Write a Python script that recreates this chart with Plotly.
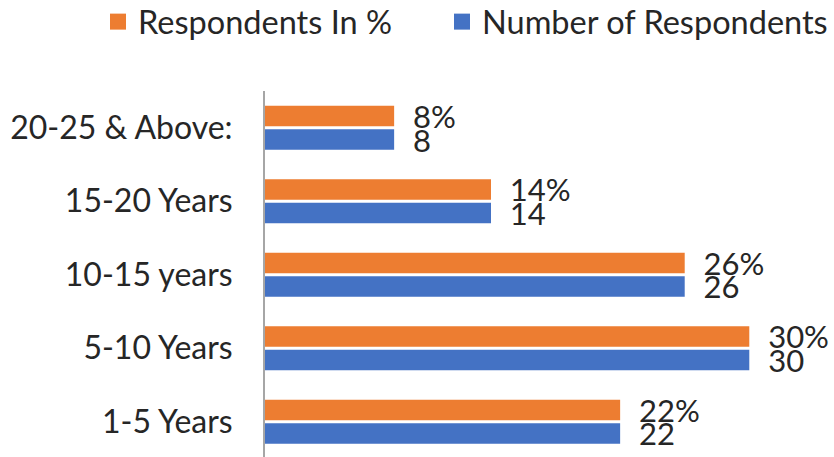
import plotly.graph_objects as go

categories = ["1-5 Years", "5-10 Years", "10-15 years", "15-20 Years", "20-25 & Above:"]
respondents_pct = [22, 30, 26, 14, 8]
respondents_num = [22, 30, 26, 14, 8]
series_names = ["Respondents In %", "Number of Respondents"]

FONT = "Lato"
ORANGE = "#ED7D31"
BLUE = "#4472C4"
TXT = "#262626"

fig = go.Figure()
fig.add_trace(go.Bar(
    y=categories, x=respondents_num, orientation="h", name=series_names[1],
    marker=dict(color=BLUE, line=dict(width=0)), showlegend=False,
    text=[f"{v}" for v in respondents_num], textposition="outside",
    texttemplate="  %{text}", constraintext="none", cliponaxis=False,
    textfont=dict(family=FONT, size=31, color=TXT),
))
fig.add_trace(go.Bar(
    y=categories, x=respondents_pct, orientation="h", name=series_names[0],
    marker=dict(color=ORANGE, line=dict(width=0)), showlegend=False,
    text=[f"{v}%" for v in respondents_pct], textposition="outside",
    texttemplate="  %{text}", constraintext="none", cliponaxis=False,
    textfont=dict(family=FONT, size=31, color=TXT),
))
# legend entries (square swatches like the reference)
fig.add_trace(go.Scatter(x=[None], y=[None], mode="markers", name=series_names[0],
                         marker=dict(symbol="square", size=17, color=ORANGE),
                         legend="legend"))
fig.add_trace(go.Scatter(x=[None], y=[None], mode="markers", name=series_names[1],
                         marker=dict(symbol="square", size=16, color=BLUE),
                         legend="legend2"))

legend_common = dict(orientation="h", xref="container", yref="container",
                     xanchor="left", y=1 - 22 / 457, yanchor="middle",
                     font=dict(family=FONT, size=32.5, color=TXT),
                     bgcolor="rgba(0,0,0,0)", borderwidth=0)

fig.update_layout(
    width=834, height=457,
    barmode="group", bargap=0.36, bargroupgap=0.13,
    margin=dict(l=265, r=4, t=91, b=0, autoexpand=False),
    plot_bgcolor="white", paper_bgcolor="white",
    font=dict(family=FONT, color=TXT),
    showlegend=True,
    legend=dict(x=98 / 834, **legend_common),
    legend2=dict(x=442 / 834, **legend_common),
    xaxis=dict(range=[0, 35], visible=False, showgrid=False, zeroline=False),
    yaxis=dict(range=[-0.48, 4.5], showline=True, linecolor="#a6a6a6", linewidth=2,
               showgrid=False, zeroline=False, ticks="", ticklabelstandoff=24,
               automargin=False,
               tickfont=dict(family=FONT, size=32, color=TXT)),
)

fig.write_html("out.html", config={"displayModeBar": False},
               post_script="document.body.style.margin='0px';document.body.style.padding='0px';")
